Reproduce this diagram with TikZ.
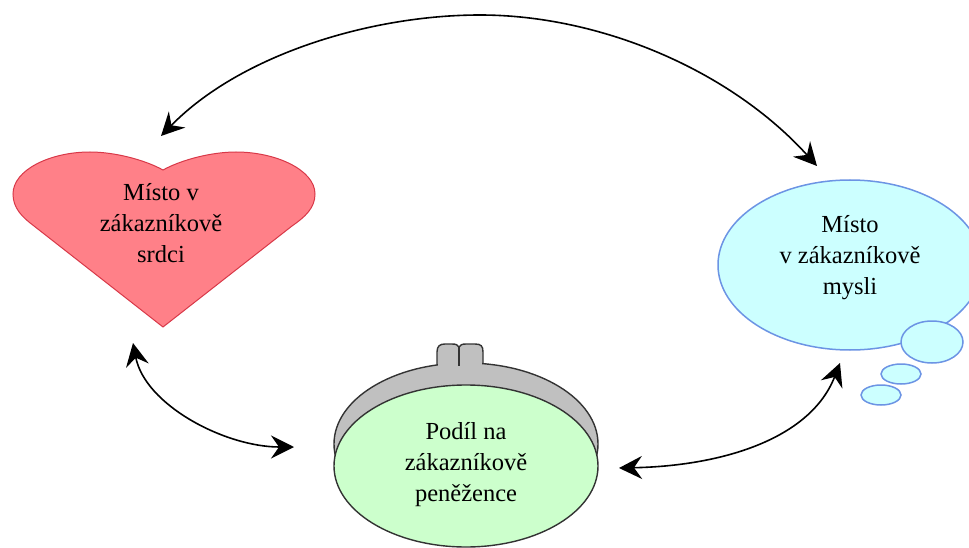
\documentclass[tikz,border=0pt]{standalone}
\usepackage{fontspec}
\setmainfont{Liberation Serif}
\usetikzlibrary{arrows.meta}
\definecolor{heartfill}{HTML}{FF8088}
\definecolor{heartline}{HTML}{D83848}
\definecolor{thinkfill}{HTML}{CCFFFF}
\definecolor{thinkline}{HTML}{6C94E4}
\definecolor{pursefill}{HTML}{CCFFCC}
\definecolor{pursegray}{HTML}{C0C0C0}
\tikzset{
  label text/.style={align=center,font=\fontsize{24.5}{31}\selectfont,text=black,inner sep=0pt},
  heart shape/.style={fill=heartfill,draw=heartline,line width=1pt},
  think shape/.style={fill=thinkfill,draw=thinkline,line width=1.5pt},
  purse shape/.style={draw=black!80,line width=1.4pt},
  link/.style={black,line width=1.6pt,{Stealth[length=23pt,width=23pt,inset=8pt]}-{Stealth[length=23pt,width=23pt,inset=8pt]}}
}
\begin{document}
\begin{tikzpicture}[x=1pt,y=-1pt]
\useasboundingbox (0,0) rectangle (969,548);
\begin{scope}
\clip (0,0) rectangle (969,548);
% heart
\draw[heart shape] (163,170) .. controls (145,160) and (115,152) .. (90,152)
  .. controls (50,152) and (13,170) .. (13,194)
  .. controls (13,208) and (22,217) .. (34,226)
  -- (163,327) -- (292,226)
  .. controls (305,217) and (315,208) .. (315,194)
  .. controls (315,170) and (276,152) .. (236,152)
  .. controls (211,152) and (181,160) .. (163,170) -- cycle;
% thought
\draw[think shape] (850,265) ellipse [x radius=132,y radius=85];
\draw[think shape] (932,342) ellipse [x radius=31,y radius=21];
\draw[think shape] (901,374) ellipse [x radius=20,y radius=10];
\draw[think shape] (881,395) ellipse [x radius=20,y radius=10];
% purse
\draw[purse shape,fill=pursegray] (437,368) -- (437,352) .. controls (437,346) and (440,344) .. (445,344) -- (452,344)
  .. controls (456,344) and (458,345) .. (459,347)
  .. controls (460,345) and (462,344) .. (466,344) -- (475,344)
  .. controls (481,344) and (483,346) .. (483,352) -- (483,368) -- cycle;
\draw[purse shape,fill=pursegray] (466,444) ellipse [x radius=132,y radius=81];
\fill[pursegray] (438,358) rectangle (482,372);
\draw[purse shape] (459,347) -- (459,366);
\draw[purse shape,fill=pursefill] (466,466) ellipse [x radius=132,y radius=81];
\end{scope}
\node[label text] (heartlabel) at (161,223) {Místo v\\zákazníkově\\srdci};
\node[label text] (thinklabel) at (850,258) {Místo\\v zákazníkově\\mysli};
\node[label text] (purselabel) at (466,465) {Podíl na\\zákazníkově\\peněžence};
\coordinate (heartTop) at (161,136);
\coordinate (archTop) at (480,15);
\coordinate (thinkTop) at (817,166);
\coordinate (heartBottom) at (133,343);
\coordinate (purseLeft) at (294,447);
\coordinate (purseRight) at (619,468);
\coordinate (thinkBottom) at (840,363);
\draw[link] (heartTop) .. controls (240,55) and (370,15) .. (archTop)
  .. controls (600,15) and (730,70) .. (thinkTop);
\draw[link] (heartBottom) .. controls (145,405) and (225,447) .. (purseLeft);
\draw[link] (purseRight) .. controls (720,466) and (810,440) .. (thinkBottom);
\end{tikzpicture}
\end{document}
